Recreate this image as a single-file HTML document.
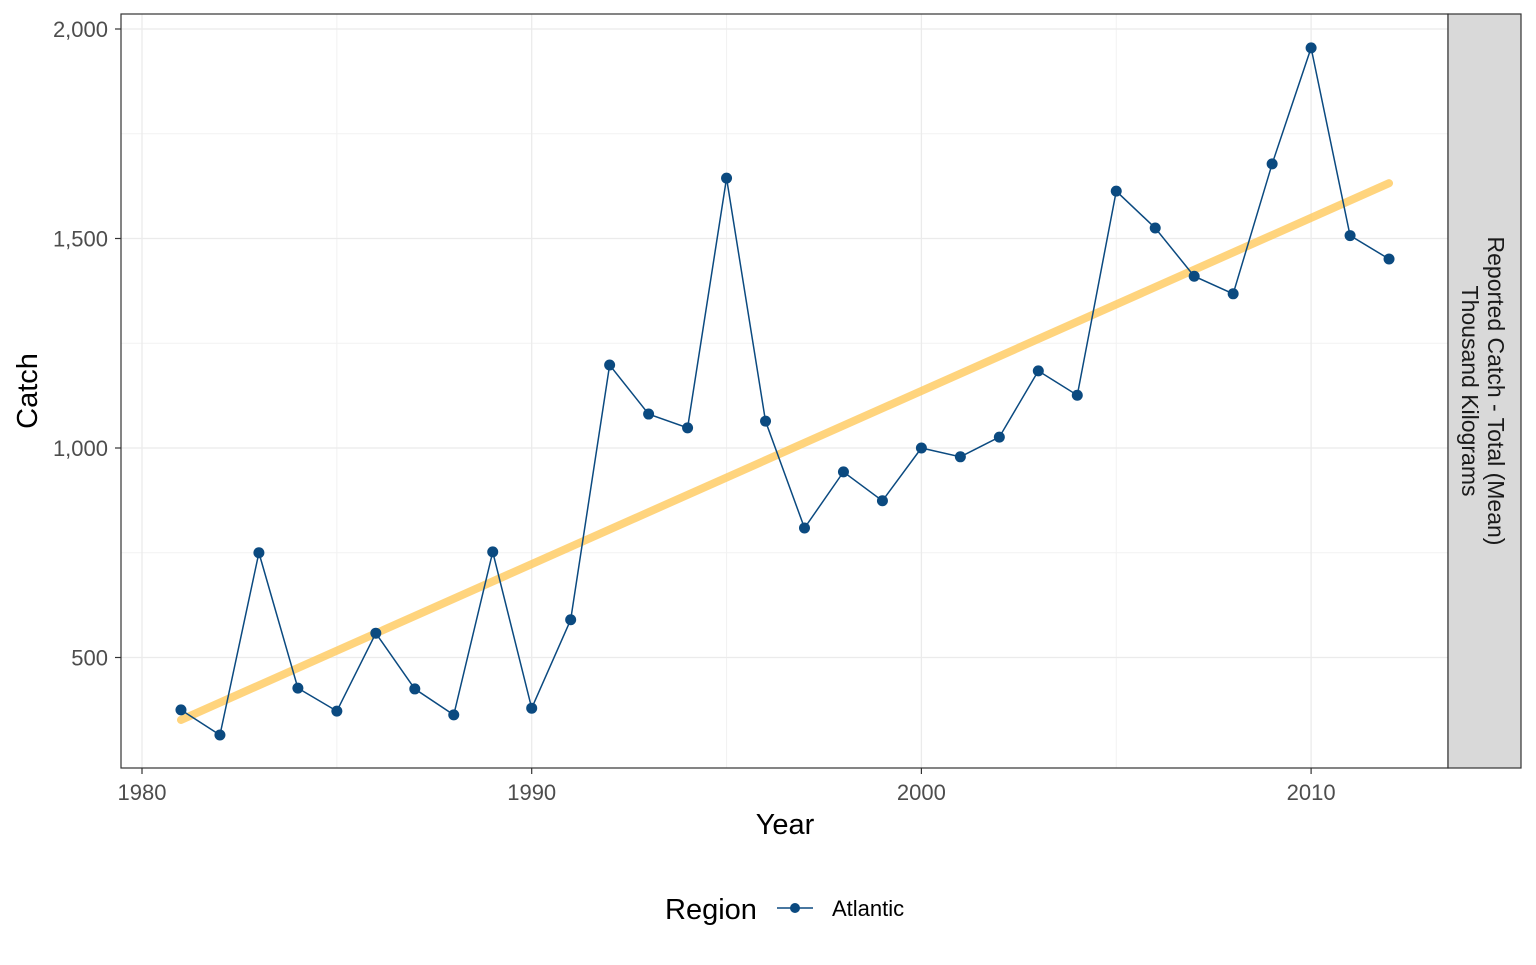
<!DOCTYPE html>
<html><head><meta charset="utf-8"><style>
body{margin:0;background:#fff;}
svg text{font-family:"Liberation Sans",Arial,sans-serif;}
</style></head><body>
<svg id="chart" width="1536" height="960" xmlns="http://www.w3.org/2000/svg">
<rect width="1536" height="960" fill="#fff"/>
<g id="grid"></g>
<g id="trend"></g>
<g id="series"></g>
<rect x="121" y="14" width="1327" height="754" fill="none" stroke="#333" stroke-width="1.2"/>
<rect x="1448" y="14" width="73" height="754" fill="#d9d9d9" stroke="#333" stroke-width="1.2"/>
<text transform="translate(1477,391) rotate(90)" text-anchor="middle" font-size="23" fill="#1a1a1a"><tspan x="0" dy="-11">Reported Catch - Total (Mean)</tspan><tspan x="0" dy="26">Thousand Kilograms</tspan></text>
<g id="axes"></g>
<text x="785" y="834" text-anchor="middle" font-size="29" fill="#000">Year</text>
<text transform="translate(37,391) rotate(-90)" text-anchor="middle" font-size="29" fill="#000">Catch</text>
<text x="665" y="919" font-size="29" fill="#000">Region</text>
<g>
<line x1="777" y1="908" x2="813" y2="908" stroke="#0b4a80" stroke-width="1.5"/>
<circle cx="795" cy="908" r="5" fill="#0b4a80"/>
<text x="832" y="916" font-size="22" fill="#000">Atlantic</text>
</g>
</svg>
<script>
const years=[1981,1982,1983,1984,1985,1986,1987,1988,1989,1990,1991,1992,1993,1994,1995,1996,1997,1998,1999,2000,2001,2002,2003,2004,2005,2006,2007,2008,2009,2010,2011,2012];
const catchValues=[375,315,750,427,372,558,425,363,752,379,590,1198,1081,1048,1644,1064,809,943,874,1000,979,1026,1184,1126,1613,1525,1410,1368,1678,1955,1507,1451];
const trendYears=[1981,2012];
const trendValues=[351,1632];
const xTicks=[1980,1990,2000,2010];
const xTickLabels=["1980","1990","2000","2010"];
const yTicks=[500,1000,1500,2000];
const yTickLabels=["500","1,000","1,500","2,000"];
const xMinor=[1985,1995,2005];
const yMinor=[750,1250,1750];
const NS="http://www.w3.org/2000/svg";
function x(v){return 142+(v-1980)*38.97;}
function y(v){return 448-(v-1000)*0.419;}
function mk(p,t,a){const e=document.createElementNS(NS,t);for(const k in a)e.setAttribute(k,a[k]);p.appendChild(e);return e;}
const grid=document.getElementById('grid'),axes=document.getElementById('axes');
xMinor.forEach(v=>{const l=mk(grid,'line',{x1:x(v),x2:x(v),y1:14,y2:768,stroke:'#f2f2f2','stroke-width':1});

});
yMinor.forEach(v=>{const l=mk(grid,'line',{x1:121,x2:1448,y1:y(v),y2:y(v),stroke:'#f2f2f2','stroke-width':1});

});
xTicks.forEach((v,i)=>{const l=mk(grid,'line',{x1:x(v),x2:x(v),y1:14,y2:768,stroke:'#ebebeb','stroke-width':1.3});


mk(axes,'line',{x1:x(v),x2:x(v),y1:768,y2:774,stroke:'#333','stroke-width':1.2});
const t=mk(axes,'text',{x:x(v),y:800,'text-anchor':'middle','font-size':22,fill:'#4d4d4d'});t.textContent=xTickLabels[i];

});
yTicks.forEach((v,i)=>{const l=mk(grid,'line',{x1:121,x2:1448,y1:y(v),y2:y(v),stroke:'#ebebeb','stroke-width':1.3});


mk(axes,'line',{x1:115,x2:121,y1:y(v),y2:y(v),stroke:'#333','stroke-width':1.2});
const t=mk(axes,'text',{x:108,y:y(v)+8,'text-anchor':'end','font-size':22,fill:'#4d4d4d'});t.textContent=yTickLabels[i];

});
const tr=mk(document.getElementById('trend'),'line',{x1:x(trendYears[0]),y1:y(trendValues[0]),x2:x(trendYears[1]),y2:y(trendValues[1]),stroke:'#ffc95c','stroke-width':8,'stroke-opacity':0.8,'stroke-linecap':'round'});


const s=document.getElementById('series');
const pl=mk(s,'polyline',{points:years.map((yr,i)=>x(yr)+','+y(catchValues[i])).join(' '),fill:'none',stroke:'#0b4a80','stroke-width':1.5});


years.forEach((yr,i)=>{const c=mk(s,'circle',{cx:x(yr),cy:y(catchValues[i]),r:5.5,fill:'#0b4a80'});

});
</script>
</body></html>
